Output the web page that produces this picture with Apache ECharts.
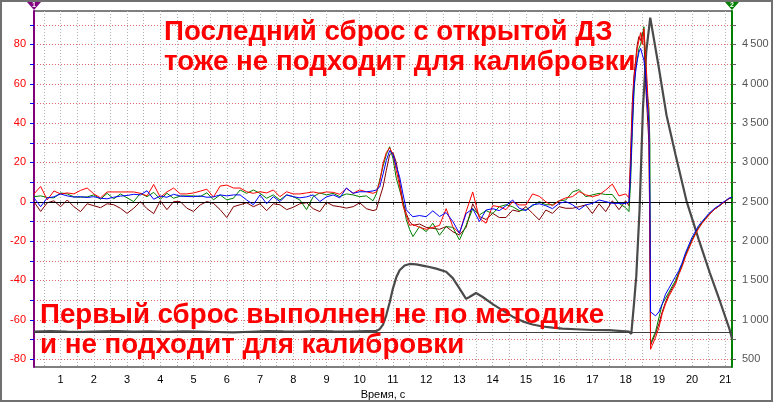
<!DOCTYPE html>
<html><head><meta charset="utf-8">
<script src="https://cdn.jsdelivr.net/npm/echarts@6/dist/echarts.min.js"></script>
<style>html,body{margin:0;padding:0;background:#fff}#c{width:773px;height:402px}</style>
</head><body><div id="c"></div>
<script>
// ---- data ----
const times = [0.2,0.4,0.6,0.8,1.0,1.2,1.4,1.6,1.8,2.0,2.2,2.4,2.6,2.8,3.0,3.2,3.4,3.6,3.8,4.0,4.2,4.4,4.6,4.8,5.0,5.2,5.4,5.6,5.8,6.0,6.2,6.4,6.6,6.8,7.0,7.2,7.4,7.6,7.8,8.0,8.2,8.4,8.6,8.8,9.0,9.2,9.4,9.6,9.8,10.0,10.2,10.4,
  10.5,10.6,10.7,10.8,10.9,11.0,11.1,11.2,11.3,11.4,11.5,11.6,
  11.8,12.0,12.2,12.4,12.6,12.8,13.0,13.2,13.4,13.6,13.8,14.0,14.2,14.4,14.6,14.8,15.0,15.2,15.4,15.6,15.8,16.0,16.2,16.4,16.6,16.8,17.0,17.2,17.4,17.6,17.8,18.0,
  18.1,18.15,18.2,18.25,18.3,18.35,18.4,18.45,18.5,18.55,18.6,18.65,18.7,18.73,18.75,
  18.8,18.9,19.0,19.1,19.2,19.3,19.4,19.5,19.6,19.7,19.8,19.9,20.0,20.1,20.2,20.3,20.4,20.5,20.6,20.7,20.8,20.9,21.0,21.1,21.2];
const redVals = [4,7.8,1,5.5,4,4.5,4,5.8,7,4,2,5,5,5,5,5,4.3,3,8.8,2.3,5,7,4,4,4.5,5.4,6.4,2.4,8,8.5,7,7,5.1,4.3,5.1,4.5,6,2.6,5.1,4,4,4.5,5,4.3,5,4.8,3.8,6.8,4.3,6,5.1,4.3,
  5,10,19.5,25,27.5,24,16,8,-2,-7,-12,-11.5,
  -13,-14,-13,-12,-3.5,-12.6,-16,-5,5,-8.4,-10.9,-2,-2.5,-4,0,-1.6,-1.6,4,2.8,0,-2,0.5,2,2.6,5.2,3.5,2.6,3.5,6,9,3,4,
  2,20,45,62,70,78,82,86,80,88,74,60,40,-20,-75,
  -73,-69,-64,-57,-52,-48,-45,-42,-37,-33,-28,-24,-20,-16.5,-13.5,-11,-9,-7,-5,-3.5,-2.3,-1,0.3,1.5,2.3];
const greenVals = [2.6,3,2.2,2,4.5,4,2.5,2.3,2.5,3.5,1.3,4.3,1.5,4,2,0.1,4.3,2.6,4.8,1.3,4.3,1.8,2.9,3,3,2.6,4.6,1,3.5,1,1.8,6,4.3,6,4.3,1.8,3.5,0.9,3.5,2.6,0.9,-4,2.6,4.5,3.5,4.3,2.6,4,3.5,2.6,3,0.5,
  4,11,18,24,28,22,12,6,0,-9,-14,-17.7,
  -12.6,-15.2,-10.9,-17,-12.6,-13,-19.4,-12,-3.5,-6.7,-4.5,-6,-2.5,-1.5,-2.5,-4.5,-4,-2,0.1,-1.5,-1.5,0.5,0.9,5,6.2,2.6,3.5,4.3,3.7,3.7,-0.8,-3,
  -5,10,35,55,68,72,78,80,84,89,70,55,48,30,-72,
  -70,-66,-59,-52,-49,-46,-43,-40,-36,-32,-27,-23,-19,-16,-13,-10.5,-8.5,-6.5,-5,-3.5,-2.3,-1,0.3,1.5,2.3];
const blueVals = [2,-2.5,2,2.5,4,3,2.4,2.6,2.2,2.6,1.8,1.5,2.3,2.9,3.2,3.8,3.5,5.6,1.3,2.9,2.3,3.8,2.9,2.7,2.6,3,2.3,2.5,3.5,3,3.5,3.5,0.9,-1.5,3.5,-1,2.6,0.1,3.5,2.6,2,2.5,3.5,0.1,2.5,3.5,2,7,4.3,5.1,5.1,5.5,
  6,7.5,14,21,26,24,18,12.7,4,-4,-6,-7.6,
  -7,-7.6,-4.6,-7.5,-5.5,-10,-16,-6,-3.5,-10,-4.2,-3.5,-4.5,-2,0.9,-3.3,-4.5,-1.6,-1,-2,-3.5,-0.8,0.1,-1.5,-4,-1.6,-0.8,0.9,0.1,-0.8,-0.8,-0.8,
  0,15,38,58,66,72,76,78,75,72,65,50,40,0,-56,
  -57,-58,-56,-52,-47,-44,-41,-38,-35,-31,-26,-22,-18,-15,-12,-10,-8,-6,-4.5,-3,-2,-0.5,0.5,1.8,2.3];
const maroonVals = [0,-4.9,-0.5,0.5,-2.5,0.9,-2.5,-5,-1,-2,-3,-1,-1.5,-3.3,-5.9,-3.3,0.1,-3.5,-6,0.5,-4,0.1,0.1,-3.3,-4.9,-1.6,0.1,-0.8,-4,-8,-2.5,-1.5,-0.5,-2.5,-1,-4.5,-1,-1.5,-4,-2.8,-1,-0.5,-3.5,-5,-0.2,-2,-2.5,-3.2,-2.5,-0.5,-3.5,-4.5,
  -4,2,7.5,16,24,25,20,10,0,-6,-10,-12,
  -11.3,-13,-13.5,-14,-12.6,-15.2,-16.9,-13,-1,-7.5,-9,-5.9,-8,-8,-4.2,-5,-2.5,-5.9,-9.2,-4.2,-5.9,-2.5,-3.3,-3.3,-2.5,-1.6,-6,-1,-5,0.5,-4,0.5,
  -2,25,50,64,72,80,84,82,86,84,60,45,30,-20,-73,
  -71,-67,-62,-56,-51,-47,-44,-41,-36,-32,-27,-23,-19.5,-16,-13,-10.5,-8.5,-6.5,-5,-3.5,-2.3,-1,0.3,1.5,2.3];
const rpmTimes = [0.2,0.7,1.2,1.7,2.2,2.7,3.2,3.7,4.2,4.7,5.2,5.7,6.2,6.7,7.2,7.7,8.2,8.7,9.2,9.7,10.2,10.5,
  10.6,10.7,10.8,10.9,11.0,11.1,11.2,11.35,11.5,11.7,12.0,12.3,12.6,12.8,13.0,13.2,13.3,13.5,13.7,14.0,14.3,14.6,14.9,15.2,15.5,15.8,16.1,16.5,17.0,17.5,17.8,18.1,18.17,
  18.25,18.32,18.42,18.52,18.62,18.74,19.0,19.23,19.5,19.83,20.2,20.53,20.85,21.13,21.2];
const rpmVals = [850,855,850,848,852,856,850,853,848,852,850,845,840,848,855,852,850,855,852,850,855,858,
  880,940,1060,1220,1400,1540,1630,1690,1710,1705,1680,1650,1610,1530,1400,1266,1290,1340,1290,1200,1120,1040,980,940,915,900,888,880,870,868,860,850,820,
  1200,1555,2406,3683,4406,4840,4200,3600,3100,2512,2020,1600,1220,874,760];
const xLabels = [1,2,3,4,5,6,7,8,9,10,11,12,13,14,15,16,17,18,19,20,21];
const leftLabels = [-80,-60,-40,-20,0,20,40,60,80];
const rightLabels = [500,1000,1500,2000,2500,3000,3500,4000,4500];
const zeroLevel = 0;
const rpmRefLevel = 845;
const topNote = ['Последний сброс с открытой ДЗ', 'тоже не подходит для калибровки'];
const bottomNote = ['Первый сброс выполнен не по методике', 'и не подходит для калибровки'];

// ---- helpers ----
const pair = (t, v) => t.map((x, i) => [x, v[i]]);
const xTicks = []; for (let v = 0.5; v <= 21.01; v += 0.5) xTicks.push(+v.toFixed(1));
const lTicks = []; for (let v = -80; v <= 90; v += 10) lTicks.push(v);
const rTicks = []; for (let v = 500; v <= 4750; v += 250) rTicks.push(v);
const FONT = '"Liberation Sans", Arial, sans-serif';
const fmtRight = v => v >= 1000 ? Math.floor(v / 1000) + '\u2009' + String(v % 1000).padStart(3, '0') : String(v);

const chart = echarts.init(document.getElementById('c'), null, {renderer: 'canvas'});
const lineSeries = (name, data, color, z) => ({
  name, type: 'line', data, yAxisIndex: 0, showSymbol: false, symbol: 'none',
  lineStyle: {color, width: 1}, z, silent: true
});
const series = [
  {
    name: 'rpm', type: 'line', data: pair(rpmTimes, rpmVals), yAxisIndex: 1, showSymbol: false, symbol: 'none',
    lineStyle: {color: '#4a4a4a', width: 2.2}, z: 2, silent: true,
    markLine: {silent: true, symbol: 'none', label: {show: false}, animation: false,
      lineStyle: {color: '#404040', width: 1, type: 'solid'}, data: [{yAxis: rpmRefLevel}]}
  },
  Object.assign(lineSeries('maroon', pair(times, maroonVals), '#800000', 3), {
    markLine: {silent: true, symbol: 'none', label: {show: false}, animation: false,
      lineStyle: {color: '#000000', width: 1, type: 'solid'}, data: [{yAxis: zeroLevel}]}
  }),
  lineSeries('green', pair(times, greenVals), '#008000', 4),
  lineSeries('red', pair(times, redVals), '#ff0000', 5),
  lineSeries('blue', pair(times, blueVals), '#0000ff', 6)
];

const txt = (s, x, y) => ({type: 'text', x, y, z: 100, silent: true,
  style: {text: s, fill: '#ff0000', font: 'bold 27.7px ' + FONT, verticalAlign: 'middle', align: 'left'}});

chart.setOption({
  animation: false,
  backgroundColor: '#ffffff',
  grid: {left: 34, right: 41, top: 11, bottom: 35, outerBoundsMode: 'none', containLabel: false,
    show: true, borderColor: '#000', borderWidth: 1, backgroundColor: 'transparent'},
  xAxis: {
    type: 'value', min: 0.2, max: 21.2,
    name: 'Время, с', nameLocation: 'middle', nameGap: 15,
    nameTextStyle: {color: '#000', fontSize: 11, fontFamily: FONT},
    axisLine: {show: true, lineStyle: {color: '#000', width: 1}},
    axisTick: {show: true, customValues: xTicks, length: 3, lineStyle: {color: '#333'}},
    axisLabel: {customValues: xLabels, color: '#000', fontSize: 11, fontFamily: FONT, margin: 7},
    splitLine: {show: true, lineStyle: {color: '#b0b0b0', type: [1, 2], width: 1}}
  },
  yAxis: [{
    type: 'value', min: -84, max: 97, position: 'left',
    axisLine: {show: true, onZero: false, lineStyle: {color: '#800080', width: 2}},
    axisTick: {show: true, customValues: lTicks, length: 4, lineStyle: {color: '#0000ff'}},
    axisLabel: {customValues: leftLabels, color: '#ff0000', fontSize: 11, fontFamily: FONT, margin: 8},
    splitLine: {show: true, lineStyle: {color: '#e06a6a', type: [1, 2], width: 1}}
  }, {
    type: 'value', min: 400, max: 4925, position: 'right',
    axisLine: {show: true, onZero: false, lineStyle: {color: '#008000', width: 2}},
    axisTick: {show: true, customValues: rTicks, length: 4, lineStyle: {color: '#606060'}},
    axisLabel: {customValues: rightLabels, color: '#555555', fontSize: 11, fontFamily: FONT, margin: 10, formatter: fmtRight},
    splitLine: {show: false}
  }],
  series,
  graphic: [
    {type: 'rect', shape: {x: 1, y: 1, width: 771, height: 400}, z: 100, silent: true,
      style: {fill: 'none', stroke: '#707070', lineWidth: 2}},
    {type: 'polygon', shape: {points: [[27, 2], [41, 2], [34, 10]]}, z: 101, silent: true, style: {fill: '#800080'}},
    {type: 'text', x: 34, y: 5, z: 102, silent: true, style: {text: '1', fill: '#fff', font: 'bold 7px ' + FONT, align: 'center', verticalAlign: 'middle'}},
    {type: 'polygon', shape: {points: [[725, 2], [739, 2], [732, 10]]}, z: 101, silent: true, style: {fill: '#008000'}},
    {type: 'text', x: 732, y: 5, z: 102, silent: true, style: {text: '2', fill: '#fff', font: 'bold 7px ' + FONT, align: 'center', verticalAlign: 'middle'}},
    txt(topNote[0], 164, 32),
    txt(topNote[1], 164, 62),
    txt(bottomNote[0], 40, 315),
    txt(bottomNote[1], 40, 345)
  ]
});
</script></body></html>
